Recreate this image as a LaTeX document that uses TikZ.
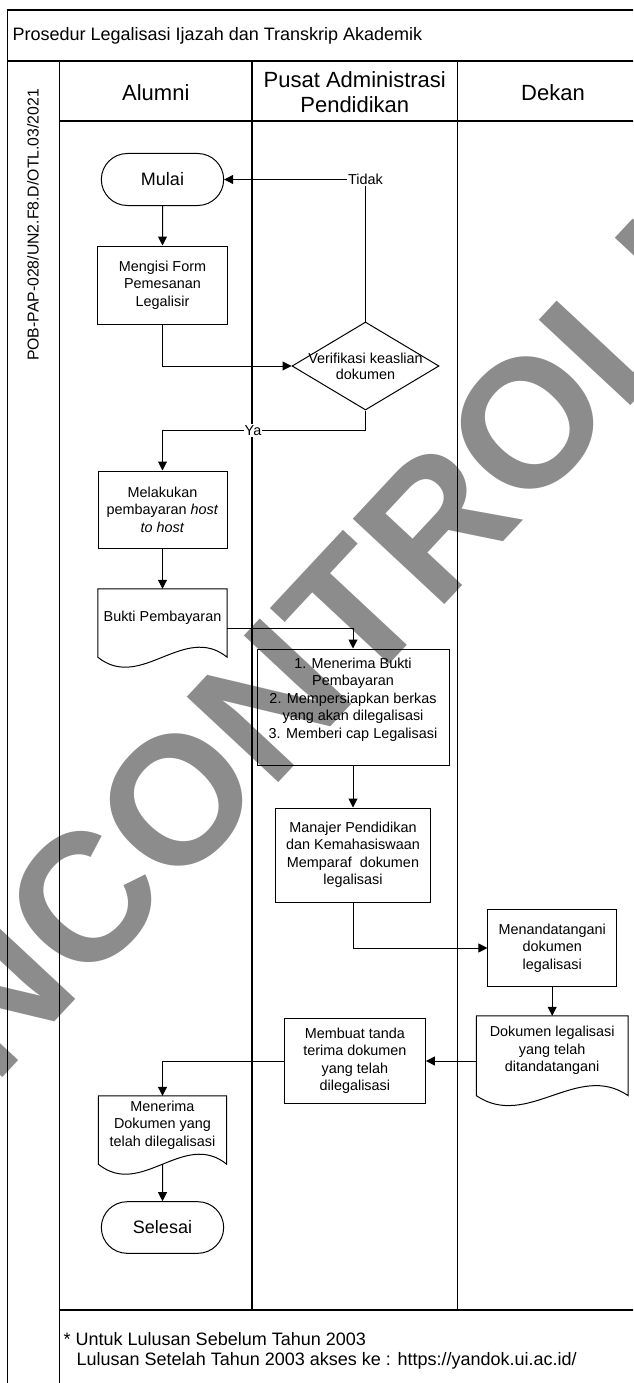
\documentclass[tikz,border=0pt]{standalone}
\usepackage{fontspec}
\setmainfont{Liberation Sans}
\usepackage{tikz}
\usetikzlibrary{calc,shapes.geometric,shapes.misc,arrows.meta}
\newcommand{\boxfont}{\fontsize{14.4}{17.5}\selectfont}
\tikzstyle{connector} = [line width=1pt, -{Triangle[length=9pt,width=9pt]}]
\tikzstyle{poolline} = [line width=1.5pt]
\tikzstyle{process} = [rectangle, draw, line width=1pt, align=center, inner sep=2pt, font=\boxfont]
\tikzstyle{terminal} = [rounded rectangle, draw, line width=1pt, minimum width=129pt, minimum height=52pt, font=\fontsize{18}{20}\selectfont]
\tikzstyle{decision} = [diamond, draw, line width=1pt, minimum width=147pt, minimum height=88pt, inner sep=0pt]
\tikzstyle{docnode} = [rectangle, align=center, inner sep=2pt, font=\boxfont]
\tikzstyle{lbl} = [fill=white, inner sep=1pt, font=\boxfont]
% outline of a document shape round a docnode
\newcommand{\docshape}[1]{%
  \draw[line width=1pt] (#1.north west) -- (#1.north east) -- ($(#1.south east)+(0,10)$)
    .. controls ($(#1.south east)!1/3!(#1.south west)+(0,-24.6)$) and ($(#1.south east)!2/3!(#1.south west)+(0,44.6)$) .. ($(#1.south west)+(0,10)$) -- cycle;}

\begin{document}
\begin{tikzpicture}[x=1pt, y=-1pt]
                \useasboundingbox (0,0) rectangle (633,1383);
                \clip (0,0) rectangle (633,1383);

                % watermark
                \node[text=black!45, font=\fontsize{182}{182}\selectfont\bfseries, rotate=47] (wm) at (380,582) {UNCONTROLLED};

                % pool and lanes
                \draw [poolline] (7.5,1400) -- (7.5,10) -- (660,10);
                \draw [poolline] (7.5,61) -- (660,61);
                \draw [poolline] (59.5,61) -- (59.5,1400);
                \draw [poolline] (59.5,121) -- (660,121);
                \draw [poolline] (252,61) -- (252,1310);
                \draw [poolline] (457.5,61) -- (457.5,1310);
                \draw [poolline] (59.5,1310) -- (660,1310);

                \node (judul) [anchor=west, inner sep=0pt, font=\fontsize{18}{20}\selectfont] at (12.5,36) {Prosedur Legalisasi Ijazah dan Transkrip Akademik};
                \node (kode) [rotate=90, inner sep=0pt, font=\fontsize{15.8}{18}\selectfont] at (33,225) {POB-PAP-028/UN2.F8.D/OTL.03/2021};
                \node (alumni) [font=\fontsize{22}{25}\selectfont] at (155.8,93) {Alumni};
                \node (pusat) [align=center, font=\fontsize{22}{25}\selectfont] at (354.8,92.5) {Pusat Administrasi\\Pendidikan};
                \node (dekan) [font=\fontsize{22}{25}\selectfont] at (553,93) {Dekan};
                \node (catatan) [anchor=north west, align=left, inner sep=0pt, font=\fontsize{18}{20}\selectfont] at (63.5,1332) {* Untuk Lulusan Sebelum Tahun 2003\\\hspace*{13pt}Lulusan Setelah Tahun 2003 akses ke : https://yandok.ui.ac.id/};

                % steps
                \node (mulai) [terminal] at (162.5,179.5) {Mulai};
                \node (form) [process, minimum width=130pt, minimum height=78pt] at (162.5,285) {Mengisi Form\\Pemesanan\\Legalisir};
                \node (verif) [decision, label={[font=\fontsize{14.4}{16}\selectfont, align=center]center:Verifikasi keaslian\\dokumen}] at (365.5,366) {};
                \node (tidak) [lbl] at (365.5,179.5) {Tidak};
                \node (ya) [lbl] at (253,430.5) {Ya};
                \node (bayar) [process, minimum width=129pt, minimum height=77pt] at (162.5,509.5) {Melakukan\\pembayaran \textit{host}\\\textit{to host}};
                \node (bukti) [docnode, minimum width=129pt, minimum height=58pt] at (162.5,618) {Bukti Pembayaran};
                \node (terima) [process, minimum width=192pt, minimum height=116pt] at (353,707) {1. Menerima Bukti\\Pembayaran\\2. Mempersiapkan berkas\\yang akan dilegalisasi\\3. Memberi cap Legalisasi\\\mbox{}};
                \node (paraf) [process, minimum width=155pt, minimum height=94pt] at (353,855) {Manajer Pendidikan\\dan Kemahasiswaan\\Memparaf~ dokumen\\legalisasi};
                \node (ttd) [process, minimum width=128.5pt, minimum height=77.4pt] at (552.2,948) {Menandatangani\\dokumen\\legalisasi};
                \node (dokttd) [docnode, minimum width=151.5pt, minimum height=69.4pt] at (552.2,1050.7) {Dokumen legalisasi\\yang telah\\ditandatangani};
                \node (tandaterima) [process, minimum width=141pt, minimum height=85.7pt] at (354.9,1061) {Membuat tanda\\terima dokumen\\yang telah\\dilegalisasi};
                \node (terimadok) [docnode, minimum width=128pt, minimum height=58pt] at (162.5,1125) {Menerima\\Dokumen yang\\telah dilegalisasi};
                \node (selesai) [terminal, minimum height=51.6pt] at (162.5,1227.5) {Selesai};

                \docshape{bukti}
                \docshape{dokttd}
                \docshape{terimadok}

                \draw [connector] (mulai) -- (form);
                \draw [connector] (form.south) |- (verif.west);
                \draw [connector] (verif.north) -- (tidak) -- (mulai.east);
                \draw [connector] (verif.south) |- (ya) -| (bayar.north);
                \draw [connector] (bayar) -- (bukti);
                \draw [connector] ([yshift=-10pt]bukti.east) -| (terima.north);
                \draw [connector] (terima) -- (paraf);
                \draw [connector] (paraf.south) |- (ttd.west);
                \draw [connector] (ttd) -- (dokttd);
                \draw [connector] (dokttd.west |- tandaterima.east) -- (tandaterima.east);
                \draw [connector] (tandaterima.west) -| (terimadok.north);
                \draw [connector] ([yshift=-10pt]terimadok.south) -- (selesai);
            \end{tikzpicture}
\end{document}
